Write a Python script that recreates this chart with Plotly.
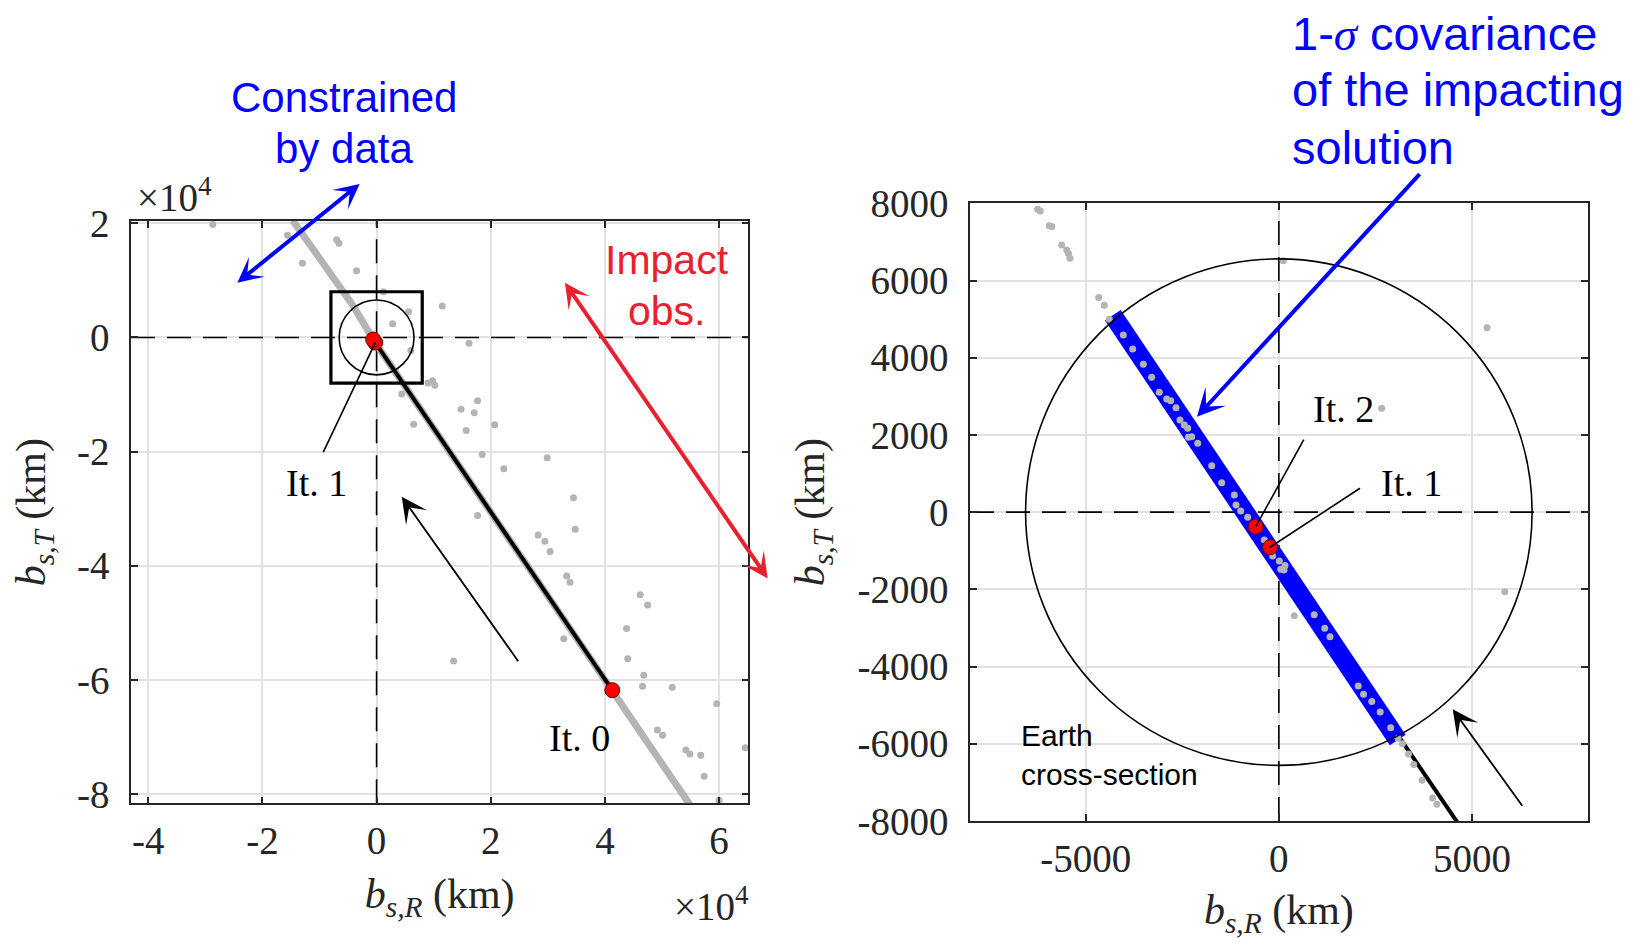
import plotly.graph_objects as go

# page body has an 8px margin: the figure is shrunk so the page fills the 1642x947 window
OFF = 8
FW, FH = 1642 - 2 * OFF, 947 - 2 * OFF


def px(p):
    return (p - OFF) / FW


def py(p):
    return 1 - (p - OFF) / FH


# ---------------- data (km) ----------------
# iterations: It. 0, It. 1, It. 2
iter_names = ["It. 0", "It. 1", "It. 2"]
iter_x = [41300, -229, -600]
iter_y = [-61800, -909, -376]

# line of variation samples (wide view), dense track
lov_x = [-14700, -4200, -300, 18100, 41000, 54900]
lov_y = [20500, 5700, -800, -27700, -61600, -81900]

# scattered samples (wide view)
wide_x = [-28700, -15600, -13000, -7000, -6600, -3500, 1200, 2800, 5600, 11500, 16200,
          6000, 9000, 9800, 10200, 4400, 14800, 17700, 17100, 15700, 20700, 6500,
          18500, 22300, 29900, 34500, 34800, 17700, 28300, 29500, 30400, 33300,
          33900, 32800, 46200, 47500, 43800, 44000, 46800, 46600, 51800, 59600,
          49200, 50100, 54200, 54900, 56800, 57400, 64600, 60000, 13500]
wide_y = [19800, 17900, 13000, 17100, 16500, 11700, 8000, 2400, 4500, 5500, -1000,
          -2300, -8000, -7600, -8400, -9900, -12600, -11100, -13200, -16300, -15300,
          -15200, -20500, -23000, -21100, -28100, -33600, -31200, -34600, -35700,
          -37500, -41800, -42900, -52800, -45100, -46900, -51000, -56300, -59200,
          -61100, -61300, -64200, -68800, -69700, -72300, -73000, -73200, -76900,
          -71900, -81100, -56700]

# samples (zoomed view)
zoom_x = [-6250, -6180, -5946, -5880, -5625, -5495, -5450, -5410, -4667, -4521, -4391,
          115, 2664, 5393, 5853, 400,
          -4029, -3786, -3511, -3294, -3097, -2905, -2802, -2664, -2561, -2449, -2361,
          -2345, -2258, -2102, -1739, -1480, -1154, -1110, -988, -807, -377, -159,
          12, 49, 134, 159, 916, 1188, 1325, 2056, 2193, 2408, 2625, 2897, 3087,
          3200, 3359, 3494, 3711, 3983, 4092]
zoom_y = [7846, 7800, 7421, 7400, 6921, 6792, 6700, 6577, 5557, 5359, 4997,
          6515, 2691, 4777, -2060, -2684,
          4590, 4227, 3831, 3494, 3105, 2932, 2888, 2707, 2388, 2259, 2173,
          1940, 1956, 1785, 1205, 764, 446, 186, 31, -132, -720, -1135,
          -1264, -1480, -1497, -1381, -2655, -3008, -3225, -4500, -4718, -4907, -5179, -5586, -5857,
          -6000, -6264, -6536, -6943, -7404, -7565]

# 1-sigma covariance of the impacting solution (major axis end points)
cov_x = [-4300, 3080]
cov_y = [5100, -5900]

earth_r = 6560          # Earth cross-section radius
zoom_box = 8000         # half-size of the zoomed region

# axis settings
left_xrange = [-43030, 65130]
left_yrange = [-81630, 20400]
left_xticks = [-40000, -20000, 0, 20000, 40000, 60000]
left_xtext = ["-4", "-2", "0", "2", "4", "6"]
left_yticks = [-80000, -60000, -40000, -20000, 0, 20000]
left_ytext = ["-8", "-6", "-4", "-2", "0", "2"]
right_range = [-8000, 8000]
right_xticks = [-5000, 0, 5000]
right_xtext = ["-5000", "0", "5000"]
right_yticks = [-8000, -6000, -4000, -2000, 0, 2000, 4000, 6000, 8000]
right_ytext = ["-8000", "-6000", "-4000", "-2000", "0", "2000", "4000", "6000", "8000"]

GRAY = "rgb(180,180,180)"
BLUE = "rgb(0,0,255)"
RED_TXT = "rgb(232,33,47)"
SERIF = "Liberation Serif"
SANS = "Liberation Sans"
AX = "#262626"

fig = go.Figure()

# zero dashed lines
for xa, ya, xr, yr in [("x", "y", left_xrange, left_yrange), ("x2", "y2", right_range, right_range)]:
    fig.add_trace(go.Scatter(x=[xr[0], xr[1]], y=[0, 0], mode="lines", xaxis=xa, yaxis=ya,
                             line=dict(color="black", width=1.6, dash="24px,12px"), hoverinfo="skip"))
    fig.add_trace(go.Scatter(x=[0, 0], y=[yr[0], yr[1]], mode="lines", xaxis=xa, yaxis=ya,
                             line=dict(color="black", width=1.6, dash="24px,12px"), hoverinfo="skip"))

# ---- left panel ----
fig.add_trace(go.Scatter(x=lov_x, y=lov_y, mode="lines", xaxis="x", yaxis="y",
                         line=dict(color=GRAY, width=7)))
fig.add_trace(go.Scatter(x=wide_x, y=wide_y, mode="markers", xaxis="x", yaxis="y",
                         marker=dict(color=GRAY, size=7)))
fig.add_trace(go.Scatter(x=iter_x[:2], y=iter_y[:2], mode="lines", xaxis="x", yaxis="y",
                         line=dict(color="black", width=4)))
fig.add_trace(go.Scatter(x=iter_x, y=iter_y, mode="markers", xaxis="x", yaxis="y",
                         marker=dict(color="red", size=15, line=dict(color="#600000", width=1))))

# ---- right panel ----
fig.add_trace(go.Scatter(x=iter_x, y=iter_y, mode="lines", xaxis="x2", yaxis="y2",
                         line=dict(color="black", width=4)))
fig.add_trace(go.Scatter(x=cov_x, y=cov_y, mode="lines", xaxis="x2", yaxis="y2",
                         line=dict(color=BLUE, width=19)))
fig.add_trace(go.Scatter(x=zoom_x, y=zoom_y, mode="markers", xaxis="x2", yaxis="y2",
                         marker=dict(color=GRAY, size=7)))
fig.add_trace(go.Scatter(x=iter_x[1:], y=iter_y[1:], mode="markers", xaxis="x2", yaxis="y2",
                         marker=dict(color="red", size=15, line=dict(color="#600000", width=1))))

shapes = []
# Earth cross-section circles
for xa, ya in [("x", "y"), ("x2", "y2")]:
    shapes.append(dict(type="circle", xref=xa, yref=ya, x0=-earth_r, x1=earth_r, y0=-earth_r, y1=earth_r,
                       line=dict(color="black", width=1.6)))
# zoom box in left panel
shapes.append(dict(type="rect", xref="x", yref="y", x0=-zoom_box, x1=zoom_box, y0=-zoom_box, y1=zoom_box,
                   line=dict(color="black", width=3.2)))
# leader lines
shapes.append(dict(type="line", xref="x", yref="y", x0=-9340, y0=-20100, x1=iter_x[1], y1=iter_y[1],
                   line=dict(color="black", width=1.6)))
shapes.append(dict(type="line", xref="x2", yref="y2", x0=646, y0=1876, x1=iter_x[2], y1=iter_y[2],
                   line=dict(color="black", width=1.6)))
shapes.append(dict(type="line", xref="x2", yref="y2", x0=2102, y0=619, x1=iter_x[1], y1=iter_y[1],
                   line=dict(color="black", width=1.6)))

ann = []


def arrow(xref, yref, hx, hy, tx, ty, color, width, size, both=False):
    d = dict(xref=xref, yref=yref, axref=xref, ayref=yref, x=hx, y=hy, ax=tx, ay=ty, text="",
             showarrow=True, arrowhead=3, arrowsize=size, arrowwidth=width, arrowcolor=color)
    if both:
        d.update(arrowside="end+start", startarrowhead=3, startarrowsize=size)
    return d


ann.append(arrow("x", "y", -24400, 9600, -2700, 27100, BLUE, 4, 1.05, both=True))
ann.append(arrow("x", "y", 33000, 9600, 68700, -42500, RED_TXT, 4, 1.05, both=True))
ann.append(arrow("x", "y", 4400, -27900, 25000, -57000, "black", 1.8, 2.4))
ann.append(arrow("x2", "y2", 4503, -5106, 6333, -7645, "black", 1.8, 2.4))
ann.append(arrow("x2", "y2", -2120, 2471, 3682, 8792, BLUE, 4, 1.15))


def txt(xref, yref, x, y, text, font, size, color, xanchor="center", align="center"):
    return dict(xref=xref, yref=yref, x=x, y=y, text=text, showarrow=False, xanchor=xanchor,
                yanchor="middle", align=align, font=dict(family=font, size=size, color=color))


ann.append(txt("paper", "paper", px(343.5), py(97.5), "Constrained", SANS, 42, BLUE))
ann.append(txt("paper", "paper", px(343.5), py(148.5), "by data", SANS, 42, BLUE))
ann.append(txt("x", "y", 50880, 13600, "Impact", SANS, 41, RED_TXT))
ann.append(txt("x", "y", 50880, 4600, "obs.", SANS, 41, RED_TXT))
cov_lines = ["1-<span style=\"font-family:Liberation Serif\"><i>σ</i></span> covariance",
             "of the impacting", "solution"]
for line, yy in zip(cov_lines, [33, 90, 147]):
    ann.append(txt("paper", "paper", px(1290), py(yy), line, SANS, 47, BLUE, xanchor="left", align="left"))
ann.append(txt("x", "y", -10494, -25562, iter_names[1], SERIF, 38, "black"))
ann.append(txt("x", "y", 35478, -70238, iter_names[0], SERIF, 38, "black"))
ann.append(txt("x2", "y2", 1677, 2660, iter_names[2], SERIF, 38, "black"))
ann.append(txt("x2", "y2", 3440, 762, iter_names[1], SERIF, 38, "black"))
ann.append(txt("x2", "y2", -6731, -6303, "Earth<br>cross-section", SANS, 30, "black", xanchor="left", align="left"))
ann.append(txt("paper", "paper", px(135), py(195), "×10<sup>4</sup>", SERIF, 39, AX, xanchor="left"))
ann.append(txt("paper", "paper", px(751), py(904), "×10<sup>4</sup>", SERIF, 39, AX, xanchor="right"))


def axis(domain, rng, tickvals, ticktext, title, anchor, standoff, lblstand):
    return dict(domain=domain, range=rng, anchor=anchor, tickvals=tickvals, ticktext=ticktext,
                showline=True, linecolor=AX, linewidth=1.6, mirror="allticks", ticks="inside",
                ticklen=7, tickwidth=1.5, tickcolor=AX, showgrid=True, gridcolor="#e2e2e2", gridwidth=1.6,
                zeroline=False, tickfont=dict(family=SERIF, size=39, color=AX), ticklabelstandoff=lblstand,
                title=dict(text=title, font=dict(family=SERIF, size=42, color=AX), standoff=standoff),
                automargin=False, fixedrange=True)


tx = "<i>b</i><sub><i>s,R</i></sub> (km)"
ty = "<i>b</i><sub><i>s,T</i></sub> (km)"

fig.update_layout(
    width=FW, height=FH, margin=dict(l=0, r=0, t=0, b=0),
    paper_bgcolor="white", plot_bgcolor="white", showlegend=False,
    xaxis=axis([px(131), px(748.3)], left_xrange, left_xticks, left_xtext, tx, "y", 18, 2),
    yaxis=axis([py(803.3), py(221)], left_yrange, left_yticks, left_ytext, ty, "x", 20, 12),
    xaxis2=axis([px(970), px(1587.7)], right_range, right_xticks, right_xtext, tx, "y2", 18, 2),
    yaxis2=axis([py(821), py(203.3)], right_range, right_yticks, right_ytext, ty, "x2", 20, 12),
    shapes=shapes, annotations=ann,
)

fig.write_html("out.html")
